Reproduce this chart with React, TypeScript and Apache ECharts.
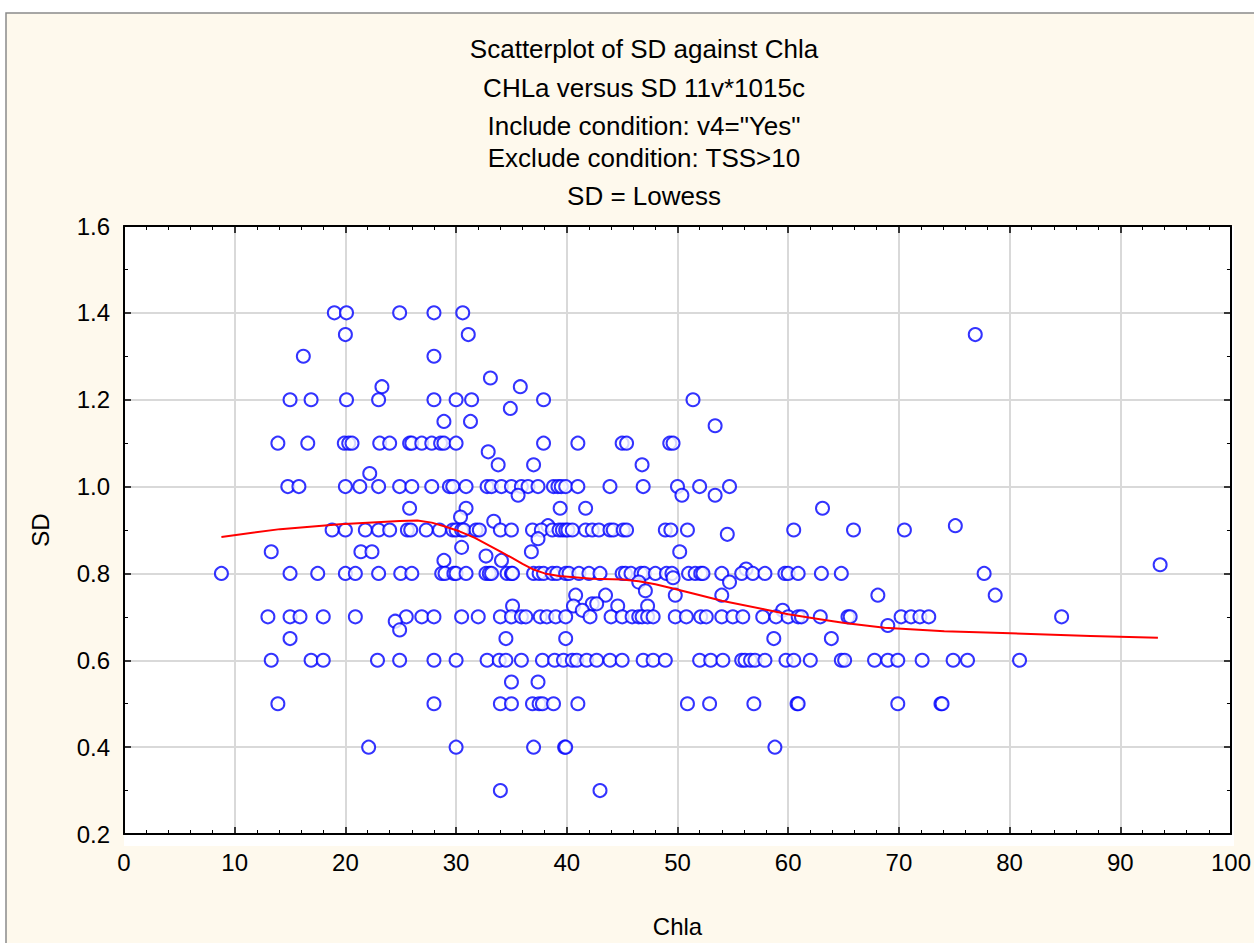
import React, { useEffect, useRef } from "react";
import * as echarts from "echarts";

const titleLines = [
  "Scatterplot of SD against Chla",
  "CHLa versus SD 11v*1015c",
  'Include condition: v4="Yes"',
  "Exclude condition: TSS>10",
  "SD = Lowess",
];

const xTicks = [0, 10, 20, 30, 40, 50, 60, 70, 80, 90, 100];
const yTicks = [0.2, 0.4, 0.6, 0.8, 1.0, 1.2, 1.4, 1.6];

// SD levels and the Chla values observed at each level
const sdLevels = [
  1.4, 1.35, 1.3, 1.25, 1.23, 1.2, 1.18, 1.15, 1.14, 1.1, 1.08, 1.05, 1.03, 1.0,
  0.98, 0.95, 0.93, 0.92, 0.91, 0.9, 0.89, 0.88, 0.86, 0.85, 0.84, 0.83, 0.82,
  0.81, 0.8, 0.79, 0.78, 0.76, 0.75, 0.73, 0.725, 0.715, 0.7, 0.69, 0.68, 0.67,
  0.65, 0.6, 0.55, 0.5, 0.4, 0.3,
];

const chlaByLevel = [
  [19.0, 20.1, 24.9, 28.0, 30.6],
  [20.0, 31.1, 76.9],
  [16.2, 28.0],
  [33.1],
  [23.3, 35.8],
  [15.0, 16.9, 20.1, 23.0, 28.0, 30.0, 31.4, 37.9, 51.4],
  [34.9],
  [28.9, 31.3],
  [53.4],
  [13.9, 16.6, 19.9, 20.3, 20.6, 23.1, 24.0, 25.8, 26.0, 26.9, 27.8, 28.6, 28.9, 30.0, 37.9, 41.0, 45.0, 45.4, 49.3, 49.6],
  [32.9],
  [33.8, 37.0, 46.8],
  [22.2],
  [14.8, 15.8, 20.0, 21.3, 23.0, 24.9, 26.0, 27.8, 29.4, 29.7, 30.9, 32.8, 33.2, 34.1, 35.0, 35.9, 36.5, 37.4, 38.8, 39.2, 39.5, 39.9, 41.0, 43.9, 46.9, 50.0, 52.0, 54.7],
  [35.6, 50.4, 53.4],
  [25.8, 30.9, 39.4, 41.7, 63.1],
  [30.4],
  [33.4],
  [38.3, 75.1],
  [18.8, 20.0, 21.8, 23.0, 24.0, 25.6, 25.9, 27.3, 28.5, 29.7, 30.0, 30.5, 30.7, 31.8, 32.1, 34.0, 35.0, 36.9, 37.7, 38.7, 39.3, 39.6, 39.9, 40.1, 40.5, 41.7, 42.3, 42.9, 43.9, 44.2, 45.1, 45.4, 48.9, 49.4, 50.9, 60.5, 65.9, 70.5],
  [54.5],
  [37.4],
  [30.5],
  [13.3, 21.4, 22.4, 36.8, 50.2],
  [32.7],
  [28.9, 34.1],
  [93.6],
  [56.2],
  [8.8, 15.0, 17.5, 20.0, 20.9, 23.0, 25.0, 26.0, 28.7, 29.0, 29.8, 30.0, 30.9, 32.7, 33.0, 33.2, 34.6, 35.0, 35.1, 37.0, 37.5, 37.9, 38.7, 39.1, 39.9, 40.2, 41.1, 42.0, 43.0, 45.0, 45.3, 45.8, 46.7, 47.0, 48.0, 49.0, 49.5, 51.0, 51.6, 52.1, 52.3, 54.0, 55.8, 56.8, 57.9, 59.7, 60.0, 60.9, 63.0, 64.8, 77.7],
  [49.6],
  [46.5, 54.7],
  [47.1],
  [40.8, 43.5, 49.8, 54.0, 68.1, 78.7],
  [42.3, 42.7],
  [35.1, 40.6, 44.6, 47.3],
  [41.4, 59.5],
  [13.0, 15.0, 15.9, 18.0, 20.9, 25.5, 26.9, 28.0, 30.5, 32.0, 34.0, 35.0, 35.9, 36.3, 37.6, 38.2, 39.0, 39.9, 42.1, 44.0, 45.0, 45.9, 46.5, 46.8, 47.3, 47.8, 49.8, 50.8, 52.1, 52.6, 54.0, 55.0, 55.9, 57.7, 58.9, 60.0, 60.9, 61.2, 62.9, 65.4, 65.6, 70.2, 71.1, 71.9, 72.7, 84.7],
  [24.5],
  [69.0],
  [24.9],
  [15.0, 34.5, 39.9, 58.7, 63.9],
  [13.3, 16.9, 18.0, 22.9, 24.9, 28.0, 30.0, 32.8, 33.9, 34.5, 35.9, 37.8, 38.9, 39.7, 40.5, 40.9, 41.8, 42.7, 43.9, 45.0, 46.9, 47.8, 48.9, 52.0, 53.0, 54.1, 55.8, 56.1, 56.6, 57.0, 57.9, 59.8, 60.5, 62.0, 64.8, 65.1, 67.8, 69.0, 69.9, 72.1, 74.9, 76.2, 80.9],
  [35.0, 37.4],
  [13.9, 28.0, 34.0, 35.0, 36.9, 37.5, 37.8, 38.8, 41.0, 50.9, 52.9, 56.9, 60.8, 60.9, 69.9, 73.8, 73.9],
  [22.1, 30.0, 37.0, 39.8, 39.9, 58.8],
  [34.0, 43.0],
];

// Lowess fit
const lowessChla = [8.8, 14.1, 19.5, 24.9, 26.5, 27.8, 29.0, 30.3, 31.7, 33.0, 34.1, 35.1, 36.0, 37.0, 38.0, 39.3, 42.3, 45.0, 46.5, 48.0, 49.5, 51.5, 54.0, 57.9, 60.0, 63.0, 65.1, 68.7, 74.1, 80.1, 87.3, 93.4];
const lowessSD = [0.884, 0.902, 0.913, 0.921, 0.922, 0.917, 0.908, 0.897, 0.882, 0.864, 0.849, 0.835, 0.822, 0.809, 0.8, 0.794, 0.788, 0.786, 0.782, 0.775, 0.766, 0.753, 0.737, 0.717, 0.706, 0.694, 0.686, 0.675, 0.667, 0.662, 0.656, 0.652];

const FONT = 'Arial, "Liberation Sans", sans-serif';

export default function App() {
  const ref = useRef<HTMLDivElement>(null);

  useEffect(() => {
    if (!ref.current) return;
    const chart = echarts.init(ref.current, undefined, { renderer: "svg" });

    const scatterData: number[][] = [];
    sdLevels.forEach((sd, i) => {
      chlaByLevel[i].forEach((c) => scatterData.push([c, sd]));
    });
    const lowessData = lowessChla.map((c, i) => [c, lowessSD[i]]);

    const tickCommon = {
      axisLine: { show: true, onZero: false, lineStyle: { color: "#000", width: 2 } },
      axisTick: { show: true, inside: true, length: 7, lineStyle: { color: "#000", width: 1.5 } },
      minorTick: { show: true, length: 4, lineStyle: { color: "#000", width: 1 } },
    };

    const left = 124, top = 226, width = 1110, height = 620;

    chart.setOption({
      animation: false,
      backgroundColor: "#ffffff",
      graphic: [
        {
          type: "rect",
          z: -10,
          silent: true,
          shape: { x: 6, y: 13, width: 1260, height: 940 },
          style: { fill: "#fef9ed", stroke: "#8a8a8a", lineWidth: 1.5 },
        },
        {
          type: "rect",
          z: -9,
          silent: true,
          shape: { x: left, y: top, width, height },
          style: { fill: "#ffffff" },
        },
        ...titleLines.map((t, i) => ({
          type: "text",
          x: 644,
          y: [49, 88, 126, 158, 196][i],
          style: {
            text: t,
            fill: "#000",
            font: `26px ${FONT}`,
            textAlign: "center",
            textVerticalAlign: "middle",
          },
        })),
      ],
      grid: { left, top, width, height, containLabel: false },
      xAxis: [
        {
          type: "value",
          min: xTicks[0],
          max: xTicks[xTicks.length - 1],
          interval: 10,
          position: "bottom",
          name: "Chla",
          nameLocation: "middle",
          nameGap: 80,
          nameTextStyle: { fontFamily: FONT, fontSize: 24, color: "#000" },
          ...tickCommon,
          minorTick: { ...tickCommon.minorTick, splitNumber: 5 },
          axisLabel: { fontFamily: FONT, fontSize: 24, color: "#000", margin: 16 },
          splitLine: { show: true, lineStyle: { color: "#d9d9d9", width: 2 } },
        },
        {
          type: "value",
          min: xTicks[0],
          max: xTicks[xTicks.length - 1],
          interval: 10,
          position: "top",
          ...tickCommon,
          minorTick: { ...tickCommon.minorTick, splitNumber: 5 },
          axisLabel: { show: false },
          splitLine: { show: false },
        },
      ],
      yAxis: [
        {
          type: "value",
          min: yTicks[0],
          max: yTicks[yTicks.length - 1],
          interval: 0.2,
          position: "left",
          name: "SD",
          nameLocation: "middle",
          nameGap: 72,
          nameRotate: 90,
          nameTextStyle: { fontFamily: FONT, fontSize: 24, color: "#000" },
          ...tickCommon,
          minorTick: { ...tickCommon.minorTick, splitNumber: 2 },
          axisLabel: {
            fontFamily: FONT,
            fontSize: 24,
            color: "#000",
            margin: 14,
            formatter: (v: number) => v.toFixed(1),
          },
          splitLine: { show: true, lineStyle: { color: "#d9d9d9", width: 2 } },
        },
        {
          type: "value",
          min: yTicks[0],
          max: yTicks[yTicks.length - 1],
          interval: 0.2,
          position: "right",
          ...tickCommon,
          minorTick: { ...tickCommon.minorTick, splitNumber: 2 },
          axisLabel: { show: false },
          splitLine: { show: false },
        },
      ],
      series: [
        {
          type: "scatter",
          xAxisIndex: 0,
          yAxisIndex: 0,
          data: scatterData,
          symbol: "emptyCircle",
          symbolSize: 13,
          itemStyle: { color: "#0000ff", borderColor: "#0000ff", borderWidth: 2 },
          z: 3,
        },
        {
          type: "line",
          xAxisIndex: 0,
          yAxisIndex: 0,
          data: lowessData,
          showSymbol: false,
          smooth: false,
          lineStyle: { color: "#ff0000", width: 2, join: "round" },
          z: 4,
        },
      ],
    });

    return () => chart.dispose();
  }, []);

  return (
    <div
      ref={ref}
      style={{ position: "fixed", left: 0, top: 0, width: 1254, height: 943 }}
    />
  );
}
